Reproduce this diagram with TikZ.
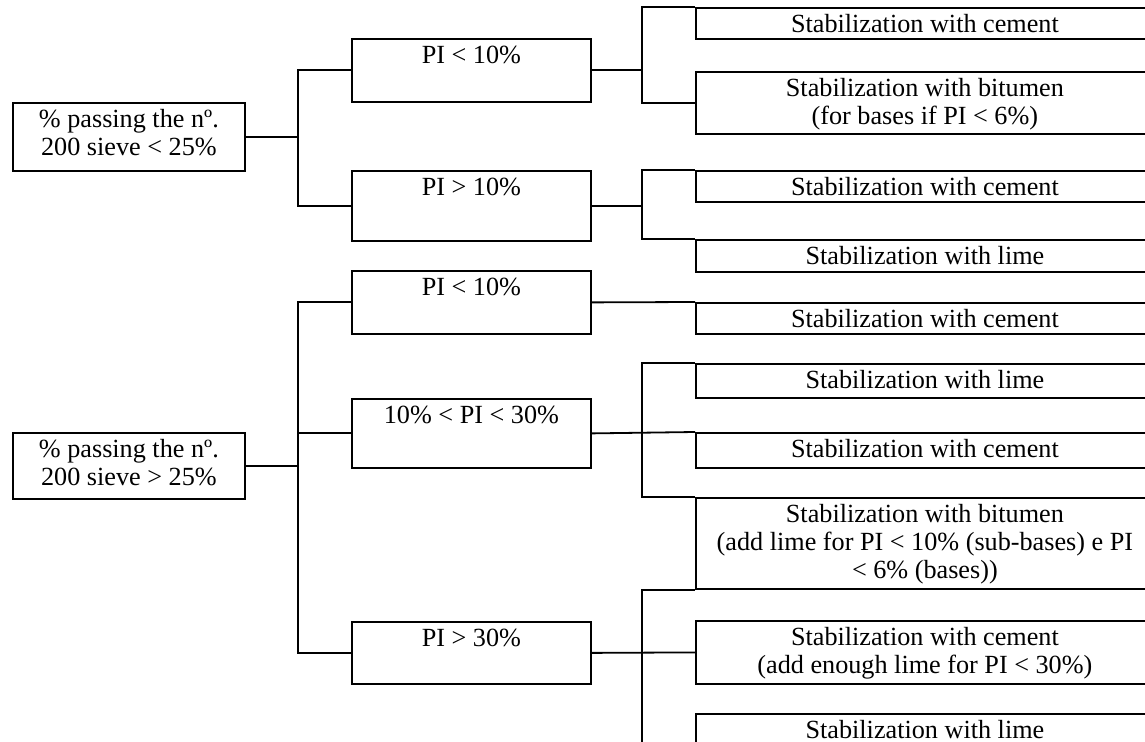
\documentclass[tikz,border=0pt]{standalone}
\usepackage{fontspec}
\setmainfont{Liberation Serif}
\newcommand{\celltext}[1]{\begin{tabular}[t]{@{}c@{}}#1\end{tabular}}
\begin{document}
\begin{tikzpicture}[x=0.5pt,y=-0.5pt,line width=0.9pt,
		font=\fontsize{13.1}{14}\selectfont,
		box/.style 2 args={draw,anchor=north west,inner sep=0pt,text height=12.5pt,minimum width=#1,text depth=#2}]
		\useasboundingbox (0,0) rectangle (1145,742);
		\clip (0,0) rectangle (1145,742);
		\coordinate (t1) at (298,0);
		\coordinate (t2) at (642,0);
		\node[box={116pt}{21.5pt}] (r1) at (12,102) {\celltext{\% passing the nº.\\200 sieve < 25\%}};
		\node[box={116pt}{20.5pt}] (r2) at (12,432) {\celltext{\% passing the nº.\\200 sieve > 25\%}};
		\node[box={119.5pt}{19pt}] (pa) at (351,38) {PI < 10\%};
		\node[box={119.5pt}{22.5pt}] (pb) at (351,170) {PI > 10\%};
		\node[box={119.5pt}{19pt}] (pc) at (351,270) {PI < 10\%};
		\node[box={119.5pt}{22pt}] (pd) at (351,398) {10\% < PI < 30\%};
		\node[box={119.5pt}{18.5pt}] (pe) at (351,621) {PI > 30\%};
		\node[box={229pt}{3pt}] (s1) at (695,7) {Stabilization with cement};
		\node[box={229pt}{18.5pt}] (s2) at (695,71) {\celltext{Stabilization with bitumen\\(for bases if PI < 6\%)}};
		\node[box={229pt}{3pt}] (s3) at (695,170) {Stabilization with cement};
		\node[box={229pt}{3.5pt}] (s4) at (695,239) {Stabilization with lime};
		\node[box={229pt}{3pt}] (s5) at (695,302) {Stabilization with cement};
		\node[box={229pt}{4.5pt}] (s6) at (695,363) {Stabilization with lime};
		\node[box={229pt}{5pt}] (s7) at (695,432) {Stabilization with cement};
		\node[box={229pt}{33pt}] (s8) at (695,497) {\celltext{Stabilization with bitumen\\(add lime for PI < 10\% (sub-bases) e PI\\< 6\% (bases))}};
		\node[box={229pt}{19pt}] (s9) at (695,620) {\celltext{Stabilization with cement\\(add enough lime for PI < 30\%)}};
		\node[box={229pt}{18.5pt}] (s10) at (695,713) {Stabilization with lime};
		\draw (r1.east) -- (t1 |- r1.east);
		\draw (pa.west) -| (t1 |- r1.east) |- (pb.west);
		\draw (pa.east) -- (t2 |- pa.east);
		\draw (s1.north west) -| (t2 |- pa.east) |- (s2.west);
		\draw (pb.east) -- (t2 |- pb.east);
		\draw (s3.north west) -| (t2 |- pb.east) |- (s4.north west);
		\draw (r2.east) -- (t1 |- r2.east);
		\draw (pc.west) -| (t1 |- r2.east) |- (pe.west);
		\draw (pd.west) -- (t1 |- pd.west);
		\draw (pc.east) -- (s5.north west);
		\draw (pd.east) -- (s7.north west);
		\draw (s6.north west) -| (t2 |- pd.east) |- (s8.north west);
		\draw (pe.east) -- (s9.west);
		\draw (s8.south west) -| (t2 |- pe.east) |- (s10.west);
	\end{tikzpicture}
\end{document}
